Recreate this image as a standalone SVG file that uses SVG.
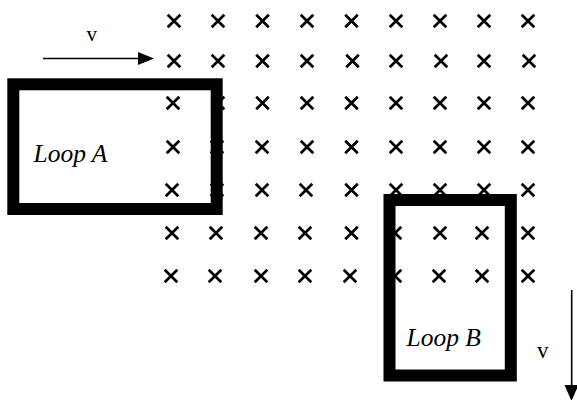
<svg xmlns="http://www.w3.org/2000/svg" xmlns:xlink="http://www.w3.org/1999/xlink" width="577" height="400" viewBox="0 0 577 400">
<style>
.x{fill:none;stroke:#000;stroke-width:2.7;stroke-linecap:butt}
.loop{fill:none;stroke:#000;stroke-width:12}
.lbl{font-family:"Liberation Serif","Times New Roman",serif;font-style:italic;font-size:25.5px;fill:#000}
.v{font-family:"Liberation Serif","Times New Roman",serif;fill:#000}
.arr{stroke:#000;stroke-width:1.6;fill:none}
</style>
<defs>
<path id="c" class="x" d="M-6.3,-6.3L6.3,6.3M6.3,-6.3L-6.3,6.3"/>
</defs>
<rect width="577" height="400" fill="#fff"/>
<g id="field">
<g transform="translate(0,21)"><use href="#c" x="174"/><use href="#c" x="218"/><use href="#c" x="262.5"/><use href="#c" x="307"/><use href="#c" x="351.5"/><use href="#c" x="396"/><use href="#c" x="440"/><use href="#c" x="484"/><use href="#c" x="528"/></g>
<g transform="translate(0,61)"><use href="#c" x="174"/><use href="#c" x="218"/><use href="#c" x="262.5"/><use href="#c" x="307"/><use href="#c" x="352.5"/><use href="#c" x="396"/><use href="#c" x="441"/><use href="#c" x="484"/><use href="#c" x="529"/></g>
<g transform="translate(0,103)"><use href="#c" x="173"/><use href="#c" x="218"/><use href="#c" x="262.5"/><use href="#c" x="307"/><use href="#c" x="351.5"/><use href="#c" x="396"/><use href="#c" x="440"/><use href="#c" x="484"/><use href="#c" x="528"/></g>
<g transform="translate(0,147)"><use href="#c" x="173"/><use href="#c" x="217"/><use href="#c" x="262"/><use href="#c" x="307"/><use href="#c" x="351.5"/><use href="#c" x="396"/><use href="#c" x="440"/><use href="#c" x="484"/><use href="#c" x="528"/></g>
<g transform="translate(0,190)"><use href="#c" x="172"/><use href="#c" x="217"/><use href="#c" x="262"/><use href="#c" x="306"/><use href="#c" x="351.5"/><use href="#c" x="396"/><use href="#c" x="440"/><use href="#c" x="484"/><use href="#c" x="528"/></g>
<g transform="translate(0,233)"><use href="#c" x="172"/><use href="#c" x="216"/><use href="#c" x="261"/><use href="#c" x="305"/><use href="#c" x="351.5"/><use href="#c" x="395"/><use href="#c" x="440"/><use href="#c" x="482"/><use href="#c" x="528"/></g>
<g transform="translate(0,276)"><use href="#c" x="171"/><use href="#c" x="215"/><use href="#c" x="261"/><use href="#c" x="305"/><use href="#c" x="350"/><use href="#c" x="395"/><use href="#c" x="439"/><use href="#c" x="482"/><use href="#c" x="528"/></g>
</g>
<g id="loopA">
<rect class="loop" x="13.3" y="84.3" width="203.4" height="124.7"/>
<text class="lbl" x="33.5" y="161.5">Loop A</text>
</g>
<g id="loopB">
<rect class="loop" x="389.5" y="200" width="121.3" height="175.5"/>
<text class="lbl" x="406.5" y="346">Loop B</text>
</g>
<g id="connectors">
<line class="arr" x1="43" y1="58.5" x2="140" y2="58.5"/>
<polygon points="138,52 154,58.5 138,65"/>
<text class="v" x="86.5" y="41" font-size="21">v</text>
<line class="arr" x1="571.7" y1="290" x2="571.7" y2="387"/>
<polygon points="564.5,385 578.5,385 571.5,401"/>
<text class="v" x="537" y="358" font-size="23">v</text>
</g>
</svg>
